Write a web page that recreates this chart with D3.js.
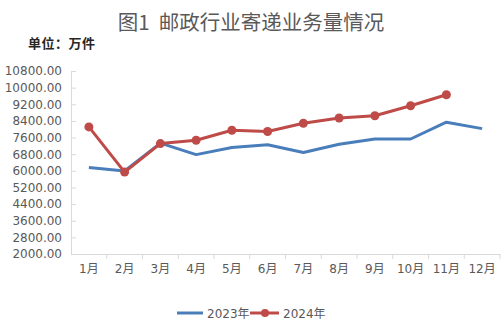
<!DOCTYPE html>
<html>
<head>
<meta charset="utf-8">
<script src="https://cdn.jsdelivr.net/npm/d3@7/dist/d3.min.js"></script>
<style>
  html, body { margin: 0; padding: 0; background: #fff; }
  svg { display: block; }
</style>
</head>
<body>
<svg id="chart" width="503" height="333"></svg>
<script>
// Monthly postal delivery volume, unit: 10k pieces
const months = ["1月","2月","3月","4月","5月","6月","7月","8月","9月","10月","11月","12月"];
const values2023 = [6160, 5990, 7330, 6780, 7120, 7250, 6880, 7280, 7530, 7530, 8340, 8030];
const values2024 = [8110, 5940, 7310, 7470, 7950, 7890, 8290, 8540, 8650, 9130, 9660];
const yTicks = [2000, 2800, 3600, 4400, 5200, 6000, 6800, 7600, 8400, 9200, 10000, 10800];
const seriesNames = ["2023年", "2024年"];

const svg = d3.select("#chart");
const margin = { left: 71, right: 3, top: 71, bottom: 79 };
const W = 503, H = 333;
const fontFam = "'DejaVu Sans', 'Noto Sans CJK SC', sans-serif";
const textColor = "#595959";
const axisColor = "#d9d9d9";
const blue = "#4a7ebb";
const red = "#be4b48";

const x = d3.scaleBand().domain(months).range([margin.left, W - margin.right]);
const y = d3.scaleLinear().domain([2000, 10800]).range([H - margin.bottom, margin.top]);

// Title
svg.append("text")
  .attr("x", 251).attr("y", 30)
  .attr("text-anchor", "middle")
  .attr("font-family", "'Noto Sans CJK SC', sans-serif")
  .attr("font-size", 20.5)
  .attr("fill", textColor)
  .style("white-space", "pre")
  .text("图1  邮政行业寄递业务量情况");

svg.append("text")
  .attr("x", 28).attr("y", 48)
  .attr("font-family", "'Noto Sans CJK SC', sans-serif")
  .attr("font-size", 13)
  .attr("font-weight", "bold")
  .attr("letter-spacing", 0.5)
  .attr("fill", "#262626")
  .text("单位：万件");

// Y axis
const yAxis = svg.append("g")
  .attr("transform", `translate(${margin.left},0)`)
  .call(d3.axisLeft(y).tickValues(yTicks).tickFormat(d3.format(".2f")).tickSize(-5).tickPadding(9));
yAxis.select(".domain").attr("stroke", axisColor);
yAxis.selectAll(".tick line").attr("stroke", axisColor);
yAxis.selectAll(".tick text")
  .attr("font-family", fontFam).attr("font-size", 12).attr("fill", textColor);

// X axis
const xAxis = svg.append("g")
  .attr("transform", `translate(0,${H - margin.bottom})`)
  .call(d3.axisBottom(x).tickSize(0).tickPadding(10));
xAxis.select(".domain").attr("stroke", axisColor);
xAxis.selectAll(".tick text")
  .attr("font-family", fontFam).attr("font-size", 12).attr("fill", textColor);
// category boundary ticks
xAxis.selectAll(".bound")
  .data(months.slice(1).concat(["end"]))
  .enter().append("line")
  .attr("class", "bound")
  .attr("x1", (d, i) => margin.left + x.step() * (i + 1))
  .attr("x2", (d, i) => margin.left + x.step() * (i + 1))
  .attr("y1", 0).attr("y2", 5)
  .attr("stroke", axisColor);

const cx = d => x(d) + x.bandwidth() / 2;
const line = d3.line().x((d, i) => cx(months[i])).y(d => y(d));

svg.append("path")
  .datum(values2023)
  .attr("d", line)
  .attr("fill", "none")
  .attr("stroke", blue)
  .attr("stroke-width", 3)
  .attr("stroke-linejoin", "round");

svg.append("path")
  .datum(values2024)
  .attr("d", line)
  .attr("fill", "none")
  .attr("stroke", red)
  .attr("stroke-width", 3)
  .attr("stroke-linejoin", "round");

svg.selectAll(".dot24")
  .data(values2024)
  .enter().append("circle")
  .attr("class", "dot24")
  .attr("cx", (d, i) => cx(months[i]))
  .attr("cy", d => y(d))
  .attr("r", 4.5)
  .attr("fill", red);

// Legend
const lg = svg.append("g").attr("font-family", fontFam).attr("font-size", 12).attr("fill", textColor);
lg.append("line").attr("x1", 177).attr("x2", 203).attr("y1", 313).attr("y2", 313)
  .attr("stroke", blue).attr("stroke-width", 3);
lg.append("text").attr("x", 207).attr("y", 317.5).text(seriesNames[0]);
lg.append("line").attr("x1", 250).attr("x2", 279).attr("y1", 313).attr("y2", 313)
  .attr("stroke", red).attr("stroke-width", 3);
lg.append("circle").attr("cx", 265).attr("cy", 313).attr("r", 4).attr("fill", red);
lg.append("text").attr("x", 283).attr("y", 317.5).text(seriesNames[1]);
</script>
</body>
</html>
